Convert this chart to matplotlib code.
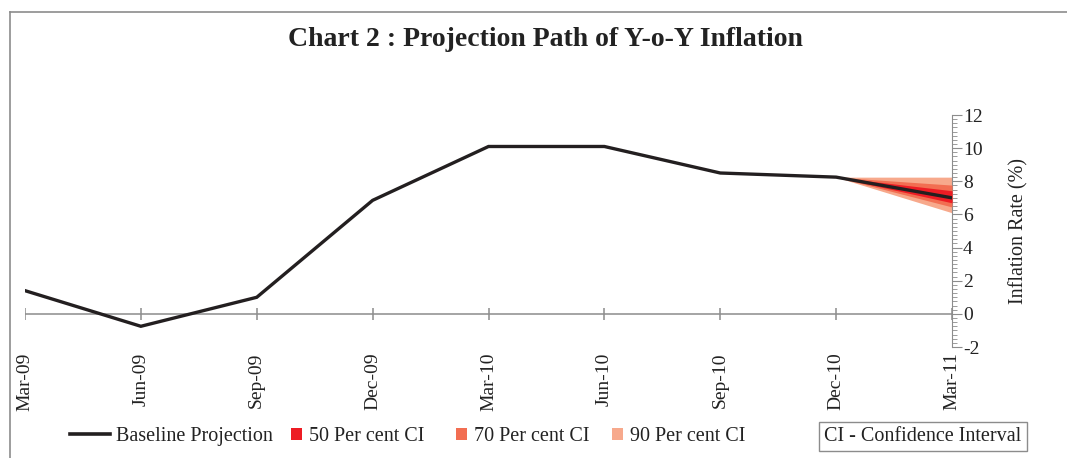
import matplotlib
matplotlib.use("Agg")
import matplotlib.pyplot as plt
from matplotlib.lines import Line2D
from matplotlib.patches import Rectangle

plt.rcParams['font.family'] = ['Liberation Serif', 'DejaVu Serif']

quarters = ["Mar-09", "Jun-09", "Sep-09", "Dec-09", "Mar-10", "Jun-10", "Sep-10", "Dec-10", "Mar-11"]
baseline = [1.4, -0.75, 1.0, 6.85, 10.1, 10.1, 8.5, 8.25, 7.0]

# confidence bands from Dec-10 to Mar-11
band_quarters = ["Dec-10", "Mar-11"]
ci90_low = [8.25, 6.1]
ci90_high = [8.25, 8.25]
ci70_low = [8.25, 6.45]
ci70_high = [8.25, 7.77]
ci50_low = [8.25, 6.7]
ci50_high = [8.25, 7.43]

legend_labels = ["Baseline Projection", "50 Per cent CI", "70 Per cent CI", "90 Per cent CI"]

c50 = "#ED1C24"
c70 = "#F26E52"
c90 = "#F7A98C"
line_col = "#231F20"
grey = "#8C8C8C"
txt = "#222222"

W, H = 1067, 458
fig = plt.figure(figsize=(W/100, H/100), dpi=100)
ax = fig.add_axes([25/W, 1-347/H, (952-25)/W, (347-115)/H])

x = list(range(len(quarters)))
bx = [quarters.index(q) for q in band_quarters]

ax.fill_between(bx, ci90_low, ci90_high, color=c90, lw=0, zorder=2)
ax.fill_between(bx, ci70_low, ci70_high, color=c70, lw=0, zorder=3)
ax.fill_between(bx, ci50_low, ci50_high, color=c50, lw=0, zorder=4)
ax.plot(x, baseline, color=line_col, lw=2.4, zorder=5, solid_joinstyle='miter')

ax.axhline(0, color=grey, lw=1.1, zorder=1)
ax.plot(x, [0]*len(x), linestyle='none', marker='|', markersize=9, color=grey, mew=1.1, zorder=1)

ax.set_xlim(0, len(quarters)-1)
ax.set_ylim(-2, 12)
for s in ['top', 'left', 'bottom']:
    ax.spines[s].set_visible(False)
ax.spines['right'].set_color(grey)

ax.set_xticks(x)
ax.set_xticklabels(quarters, rotation=90, fontsize=14, color=txt, va='top')
ax.tick_params(axis='x', length=0, pad=4)

ax.yaxis.tick_right()
ax.yaxis.set_label_position('right')
ax.set_yticks(range(-2, 13, 2))
ax.set_yticklabels([str(v) if v >= 0 else "-" + str(-v) for v in range(-2, 13, 2)])
ax.set_yticks([i*0.25 for i in range(-8, 49)], minor=True)
ax.tick_params(axis='y', which='major', length=7, color=grey, labelsize=14, labelcolor=txt, pad=1,
               direction='out')
ax.tick_params(axis='y', which='minor', length=3.5, color=grey, direction='out')
ax.set_ylabel("Inflation Rate (%)", fontsize=14.5, color=txt, labelpad=19)

fig.text(545/W, 1-39/H, "Chart 2 : Projection Path of Y-o-Y Inflation",
         ha='center', va='center', fontsize=20, fontweight='bold', color=txt)

# manual legend
ly = 1 - 434/H
fig.add_artist(Line2D([70/W, 110/W], [ly, ly], transform=fig.transFigure, color=line_col, lw=2.6))
fig.text(116/W, ly, legend_labels[0], ha='left', va='center_baseline', fontsize=14.5, color=txt)
for (sx, tx), col, lab in zip([(291, 309), (456, 474), (612, 630)], [c50, c70, c90], legend_labels[1:]):
    fig.add_artist(Rectangle((sx/W, ly - 6/H), 11/W, 12/H, transform=fig.transFigure,
                             facecolor=col, edgecolor='none'))
    fig.text(tx/W, ly, lab, ha='left', va='center_baseline', fontsize=14.5, color=txt)

fig.text(923/W, ly, "CI - Confidence Interval", ha='center', va='center_baseline',
         fontsize=14.5, color=txt,
         bbox=dict(boxstyle='square,pad=0.25', fc='white', ec=grey, lw=1))

# outer frame (partially cut off)
fig.add_artist(Line2D([10/W, 10/W], [0, 1-12/H], transform=fig.transFigure, color=grey, lw=1.2))
fig.add_artist(Line2D([10/W, 1], [1-12/H, 1-12/H], transform=fig.transFigure, color=grey, lw=1.2))

fig.savefig("out.png", dpi=100)
